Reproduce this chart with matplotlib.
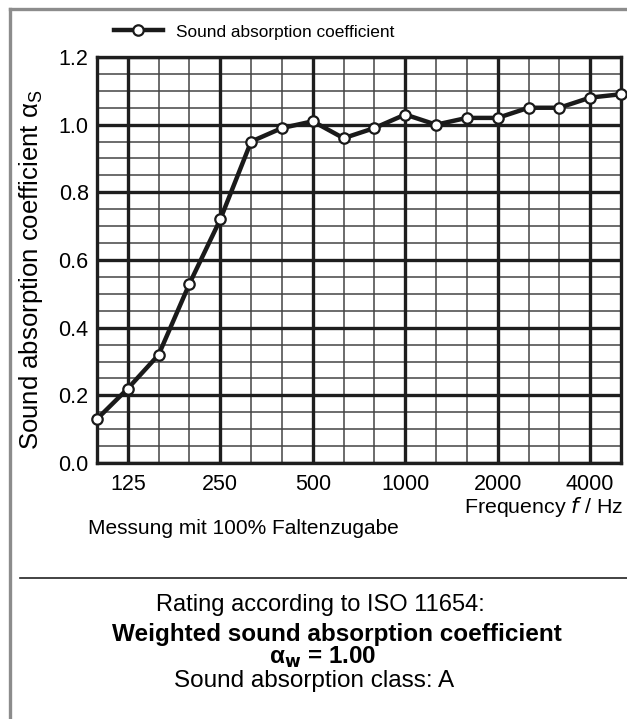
import numpy as np
import matplotlib.pyplot as plt
from matplotlib.lines import Line2D

plt.rcParams['font.family'] = ['Liberation Sans', 'DejaVu Sans']

# third-octave band centre frequencies and measured values
freqs = [100, 125, 160, 200, 250, 315, 400, 500, 630, 800,
         1000, 1250, 1600, 2000, 2500, 3150, 4000, 5000]
alpha_s = [0.13, 0.22, 0.32, 0.53, 0.72, 0.95, 0.99, 1.01, 0.96, 0.99,
           1.03, 1.00, 1.02, 1.02, 1.05, 1.05, 1.08, 1.09]
octave_labels = [125, 250, 500, 1000, 2000, 4000]
y_ticks = [0.0, 0.2, 0.4, 0.6, 0.8, 1.0, 1.2]

W, H = 627, 719
fig = plt.figure(figsize=(W / 100, H / 100), dpi=100)

def fx(px):
    return px / W

def fy(py):
    return 1 - py / H

ax = fig.add_axes([fx(97), fy(463), fx(621) - fx(97), fy(57) - fy(463)])

xs = np.arange(len(freqs))
ax.set_xlim(0, len(freqs) - 1)
ax.set_ylim(0, 1.2)

# grid: thin lines on every band / 0.05, thick on octaves / 0.2
for i, f in enumerate(freqs):
    if f in octave_labels:
        ax.axvline(i, color='#1e1e1e', lw=2.4, zorder=2)
    else:
        ax.axvline(i, color='#444444', lw=1.1, zorder=1)
for y in np.arange(0, 1.2001, 0.05):
    if round(y * 100) % 20 == 0:
        ax.axhline(y, color='#1e1e1e', lw=2.4, zorder=2)
    else:
        ax.axhline(y, color='#444444', lw=1.1, zorder=1)

ax.plot(xs, alpha_s, color='#1a1a1a', lw=3.2, marker='o', ms=7.5,
        mfc='white', mec='#1a1a1a', mew=1.6, zorder=5, clip_on=False)

for s in ax.spines.values():
    s.set_linewidth(2.4)
    s.set_color('#1e1e1e')

ax.set_xticks([freqs.index(f) for f in octave_labels])
ax.set_xticklabels([str(f) for f in octave_labels], fontsize=15.5)
ax.set_yticks(y_ticks)
ax.set_yticklabels(['%.1f' % v for v in y_ticks], fontsize=15.5)
ax.tick_params(axis='y', length=0, pad=6)
ax.tick_params(axis='x', length=0, pad=8)

fig.text(fx(31), fy(270), 'Sound absorption coefficient α$_\\mathregular{S}$',
         rotation=90, ha='center', va='center', fontsize=18.5)

handle = Line2D([], [], color='#1a1a1a', lw=3.2, marker='o', ms=7.5,
                mfc='white', mec='#1a1a1a', mew=1.6)
fig.legend([handle], ['Sound absorption coefficient'], frameon=False,
           loc='center left', bbox_to_anchor=(fx(98), fy(32)),
           fontsize=12.4, handlelength=2.9, handletextpad=0.7)

fig.text(fx(623), fy(507), 'Frequency $\\it{f}$ / Hz', ha='right',
         va='center', fontsize=15.4)
fig.text(fx(88), fy(529), 'Messung mit 100% Faltenzugabe', ha='left',
         va='center', fontsize=15)

# frame and separator
fig.add_artist(Line2D([fx(10), fx(10)], [0, fy(9)], color='#8c8c8c', lw=2.4))
fig.add_artist(Line2D([fx(10), 1], [fy(9), fy(9)], color='#8c8c8c', lw=2.4))
fig.add_artist(Line2D([fx(20), 1], [fy(578), fy(578)], color='#222222', lw=1.2))

fig.text(fx(320), fy(605), 'Rating according to ISO 11654:', ha='center',
         va='center', fontsize=17)
fig.text(fx(337), fy(634), 'Weighted sound absorption coefficient', ha='center',
         va='center', fontsize=17.5, fontweight='bold')
fig.text(fx(323), fy(657), 'α$_\\mathbf{w}$ = 1.00', ha='center',
         va='center', fontsize=17.5, fontweight='bold')
fig.text(fx(314), fy(681), 'Sound absorption class: A', ha='center',
         va='center', fontsize=17.5)

fig.savefig('out.png', dpi=100, facecolor='white')
